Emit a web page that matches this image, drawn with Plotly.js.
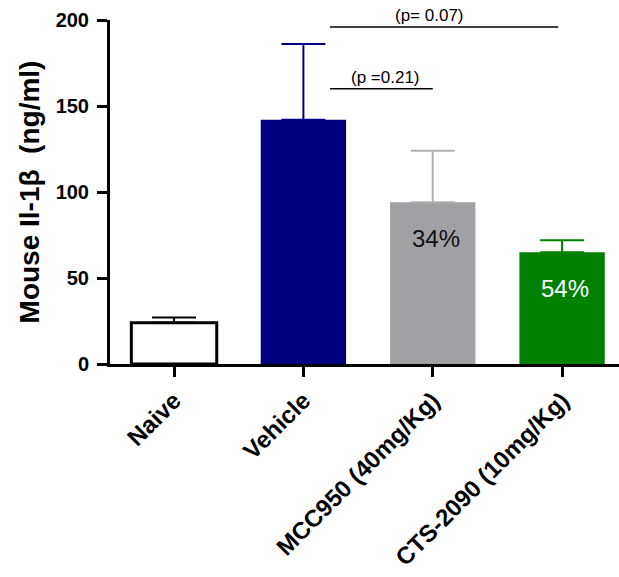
<!DOCTYPE html>
<html>
<head>
<meta charset="utf-8">
<script src="https://cdn.plot.ly/plotly-3.0.1.min.js"></script>
<style>html,body{margin:0;padding:0;background:#fff;}#chart{width:619px;height:577px;}</style>
</head>
<body>
<div id="chart"></div>
<script>
var categories = ["Naive", "Vehicle", "MCC950 (40mg/Kg)", "CTS-2090 (10mg/Kg)"];
var means = [24, 142, 94, 65];
var errors = [3, 44, 30, 7];
var percentLabels = ["", "", "34%", "54%"];
var pLabels = ["(p =0.21)", "(p= 0.07)"];
var pLevels = [160, 196];
var pTargets = [2, 3];

var fillColors = ["#ffffff", "#000080", "#a0a0a5", "#008000"];
var errColors = ["#000000", "#000080", "#b0b0b0", "#008000"];
var labelColors = ["#000", "#000", "#111111", "#ffffff"];
var FONT = "Arial, 'Liberation Sans', Helvetica, sans-serif";

var traces = categories.map(function (c, i) {
  return {
    type: "bar",
    x: [c],
    y: [means[i]],
    width: 0.66,
    marker: {
      color: fillColors[i],
      line: { color: i === 0 ? "#000" : fillColors[i], width: i === 0 ? 3 : 0 }
    },
    error_y: {
      type: "data", array: [errors[i]], symmetric: false, arrayminus: [0],
      visible: true, color: errColors[i], thickness: 2, width: 22
    },
    showlegend: false,
    hoverinfo: "skip"
  };
});

var annotations = [];
var shapes = [];
percentLabels.forEach(function (t, i) {
  if (!t) return;
  annotations.push({
    x: categories[i], y: means[i], xref: "x", yref: "y",
    text: t, showarrow: false, yshift: -36, xshift: 3,
    font: { family: FONT, size: 24, color: labelColors[i] }
  });
});
pLabels.forEach(function (t, k) {
  var x0 = 1 + 0.206;
  var x1 = pTargets[k] === 3 ? 2.97 : 2.0;
  shapes.push({
    type: "line", xref: "x", yref: "y",
    x0: x0, x1: x1, y0: pLevels[k], y1: pLevels[k],
    line: { color: "#000", width: 1.5 }
  });
  annotations.push({
    x: k === 0 ? (x0 + x1) / 2 + 0.03 : (x0 + x1) / 2 - 0.115,
    y: pLevels[k], xref: "x", yref: "y", yanchor: "bottom",
    text: t, showarrow: false, yshift: 0,
    font: { family: FONT, size: 17, color: "#000" }
  });
});

var layout = {
  width: 619, height: 577,
  margin: { l: 110, r: 0, t: 20, b: 213 },
  paper_bgcolor: "#fff", plot_bgcolor: "#fff",
  barmode: "overlay",
  font: { family: FONT, color: "#000" },
  xaxis: {
    type: "category",
    range: [-0.495, 3.44],
    showgrid: false, zeroline: false,
    showline: true, linecolor: "#000", linewidth: 3,
    ticks: "outside", ticklen: 10, tickwidth: 3, tickcolor: "#000",
    tickangle: -45,
    tickfont: { family: FONT, size: 24, color: "#000", weight: "bold" }
  },
  yaxis: {
    range: [0, 200],
    tickvals: [0, 50, 100, 150, 200],
    showgrid: false, zeroline: false,
    showline: true, linecolor: "#000", linewidth: 3,
    ticks: "outside", ticklen: 10, tickwidth: 3, tickcolor: "#000",
    ticklabelstandoff: 4,
    tickfont: { family: FONT, size: 20, color: "#000", weight: "bold" },
    title: { text: "Mouse Il-1β\u00a0 (ng/ml)", standoff: 8,
      font: { family: FONT, size: 28, color: "#000", weight: "bold" } }
  },
  shapes: shapes,
  annotations: annotations
};

Plotly.newPlot("chart", traces, layout, { staticPlot: true, displayModeBar: false });
</script>
</body>
</html>
